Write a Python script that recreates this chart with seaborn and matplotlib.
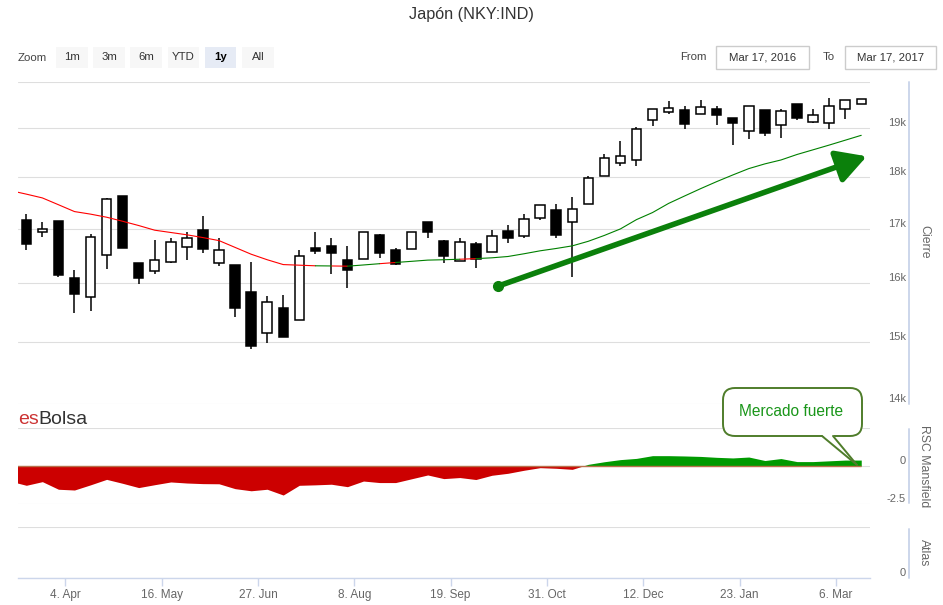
import matplotlib
matplotlib.use("Agg")
import matplotlib.pyplot as plt
import matplotlib.dates as mdates
from matplotlib.patches import Rectangle, FancyBboxPatch, Polygon
from matplotlib.lines import Line2D
from matplotlib.ticker import FixedLocator, NullLocator
import numpy as np
import pandas as pd
import seaborn as sns

# weekly candles (Friday close), Mar 2016 - Mar 2017
week_dates = pd.date_range("2016-03-18", periods=53, freq="7D")
open_ = [17160, 16929, 17141, 16088, 15754, 16509, 17623, 16358, 16218, 16381,
         16650, 16985, 16358, 16327, 15841, 15138, 15568, 15362, 16643, 16675,
         16412, 16448, 16878, 16613, 16619, 17135, 16767, 16399, 16711, 16563,
         16953, 16860, 17212, 17365, 17127, 17467, 18025, 18284, 18339, 19169,
         19346, 19397, 19296, 19418, 19226, 18944, 19382, 19063, 19526, 19133,
         19120, 19403, 19526]
high = [17275, 17135, 17154, 16236, 16910, 17584, 17623, 16358, 16798, 16835,
        16940, 17237, 16817, 16327, 16381, 15776, 15794, 16600, 16929, 16817,
        16675, 16929, 16910, 16643, 16929, 17135, 16798, 16817, 16748, 16972,
        17066, 17281, 17461, 17467, 17616, 18025, 18476, 18728, 19028, 19403,
        19576, 19468, 19598, 19475, 19226, 19475, 19382, 19403, 19526, 19403,
        19656, 19604, 19620]
low = [16613, 16846, 16118, 15478, 15521, 16267, 16640, 15982, 16160, 16375,
       16430, 16540, 16314, 15410, 14872, 14981, 15080, 15362, 16527, 16177,
       15922, 16448, 16466, 16327, 16619, 16835, 16358, 16399, 16285, 16563,
       16735, 16828, 17173, 16817, 16118, 17467, 18025, 18224, 18224, 19048,
       19310, 18994, 19296, 19078, 18661, 18784, 18840, 18805, 19184, 19112,
       18994, 19205, 19526]
close = [16706, 17004, 16148, 15806, 16846, 17578, 16643, 16088, 16412, 16743,
         16835, 16624, 16613, 15573, 14932, 15676, 15082, 16496, 16587, 16551,
         16249, 16929, 16540, 16340, 16929, 16940, 16496, 16754, 16441, 16872,
         16835, 17193, 17461, 16891, 17376, 17973, 18394, 18427, 18994, 19403,
         19440, 19099, 19453, 19275, 19120, 19475, 18911, 19367, 19218, 19290,
         19475, 19604, 19620]

# moving average (one extra week before the window)
ma_dates = pd.date_range("2016-03-11", periods=54, freq="7D")
ma_values = [17734, 17664, 17590, 17458, 17326, 17277, 17218, 17141, 17060, 16972,
             16929, 16886, 16834, 16778, 16652, 16527, 16426, 16338, 16327, 16316,
             16313, 16309, 16331, 16354, 16376, 16397, 16419, 16426, 16435, 16446,
             16461, 16485, 16535, 16589, 16632, 16680, 16765, 16874, 16996, 17172,
             17307, 17483, 17628, 17772, 17911, 18043, 18171, 18266, 18345, 18457,
             18553, 18650, 18751, 18853]
# state of each segment between consecutive MA points: 1 = weak (red), 0 = strong (green)
ma_weak = [1] * 19 + [0, 1, 0, 0, 1] + [0] * 4 + [1] + [0] * 24

# RSC Mansfield, same weeks as ma_dates
rsc_values = [-1.00, -1.27, -1.03, -1.53, -1.58, -1.24, -0.88, -1.14, -1.42, -1.23,
              -1.05, -1.12, -1.16, -1.17, -1.49, -1.63, -1.53, -1.91, -1.27, -1.24,
              -1.20, -1.36, -0.99, -1.09, -1.09, -0.84, -0.59, -0.83, -0.76, -0.89,
              -0.61, -0.48, -0.28, -0.11, -0.15, -0.22, 0.11, 0.28, 0.42, 0.50,
              0.68, 0.68, 0.66, 0.63, 0.57, 0.53, 0.59, 0.36, 0.49, 0.29,
              0.29, 0.34, 0.39, 0.39]

price_ticks = [14000, 15000, 16000, 17000, 18000, 19000, 20000]
price_labels = ["14k", "15k", "16k", "17k", "18k", "19k", ""]
tick_dates = ["2016-04-04", "2016-05-16", "2016-06-27", "2016-08-08", "2016-09-19",
              "2016-10-31", "2016-12-12", "2017-01-23", "2017-03-06"]
tick_labels = ["4. Apr", "16. May", "27. Jun", "8. Aug", "19. Sep",
               "31. Oct", "12. Dec", "23. Jan", "6. Mar"]
zoom_buttons = ["1m", "3m", "6m", "YTD", "1y", "All"]
zoom_selected = "1y"
range_from, range_to = "Mar 17, 2016", "Mar 17, 2017"
trend_start = ("2016-10-09 14:00", 15952)
trend_end = ("2017-03-19 10:00", 18420)

sns.set_theme(style="white")
plt.rcParams["font.family"] = ["Liberation Sans", "DejaVu Sans"]

W, H = 943, 605
fig = plt.figure(figsize=(W / 100, H / 100), dpi=100)
fig.patch.set_facecolor("white")


def box(x0, y0, x1, y1):
    # pixel box (top-left origin) -> figure fraction rect
    return [x0 / W, 1 - y1 / H, (x1 - x0) / W, (y1 - y0) / H]


def ip(x, y):
    # pixel -> inches for fig.dpi_scale_trans
    return (x / 100, (H - y) / 100)


ax = fig.add_axes(box(18, 82, 870, 404))
ax_rsc = fig.add_axes(box(18, 428, 870, 504), sharex=ax)
ax_atl = fig.add_axes(box(18, 527, 870, 578), sharex=ax)

x_c = mdates.date2num(week_dates)
x_ma = mdates.date2num(ma_dates)
o, h, l, c = map(np.asarray, (open_, high, low, close))

GRID = "#dedede"
AXC = "#ccd6eb"
LBL = "#666666"

# candles
ax.vlines(x_c, l, h, color="black", lw=1.1, zorder=2)
up = c >= o
ax.bar(x_c, np.abs(c - o), bottom=np.minimum(o, c), width=4.1,
       color=np.where(up, "white", "black"), edgecolor="black", linewidth=1.1, zorder=3)

# moving average, split into runs of equal state
rows = []
run = 0
for i, weak in enumerate(ma_weak):
    if i > 0 and weak != ma_weak[i - 1]:
        run += 1
    state = "weak" if weak else "strong"
    rows.append((run, state, x_ma[i], ma_values[i]))
    rows.append((run, state, x_ma[i + 1], ma_values[i + 1]))
ma_df = pd.DataFrame(rows, columns=["run", "state", "x", "ma"]).drop_duplicates()
sns.lineplot(data=ma_df, x="x", y="ma", hue="state", units="run", estimator=None,
             palette={"weak": "#ff0000", "strong": "#008000"}, lw=0.8, sort=False,
             legend=False, ax=ax, zorder=4)

# trend arrow
xs, ys = mdates.date2num(pd.Timestamp(trend_start[0])), trend_start[1]
xe, ye = mdates.date2num(pd.Timestamp(trend_end[0])), trend_end[1]
ax.annotate("", xy=(xe, ye), xytext=(xs, ys),
            arrowprops=dict(arrowstyle="-|>,head_length=0.9,head_width=0.5",
                            color="#0b800b", lw=4, mutation_scale=20,
                            shrinkA=0, shrinkB=0), zorder=6)
ax.plot([xs], [ys], "o", ms=7, color="#0b800b", zorder=6)

ax.set_yscale("log")
ax.set_ylim(14000, 20000)
ax.yaxis.set_major_locator(FixedLocator(price_ticks))
ax.yaxis.set_minor_locator(NullLocator())
ax.set_yticklabels(price_labels)

# RSC Mansfield area
rsc = np.asarray(rsc_values)
ax_rsc.fill_between(x_ma, rsc, 0, where=rsc < 0, interpolate=True, color="#cc0000", lw=0)
ax_rsc.fill_between(x_ma, rsc, 0, where=rsc >= 0, interpolate=True, color="#009a00", lw=0)
ax_rsc.hlines(0, x_ma[0], x_ma[-1], color="#b8704a", lw=1, zorder=3)
ax_rsc.set_ylim(-2.5, 2.5)
ax_rsc.set_yticks([-2.5, 0, 2.5])
ax_rsc.set_yticklabels(["-2.5", "0", ""])

ax_atl.set_ylim(0, 1)
ax_atl.set_yticks([0, 1])
ax_atl.set_yticklabels(["0", ""])

left = mdates.date2num(pd.Timestamp("2016-03-14 09:00"))
right = mdates.date2num(pd.Timestamp("2017-03-20 19:40"))
ax.set_xlim(left, right)
ax_atl.set_xticks(mdates.date2num(pd.to_datetime(tick_dates)))
ax_atl.set_xticklabels(tick_labels)

for a in (ax, ax_rsc, ax_atl):
    a.set_facecolor("none")
    for s in a.spines.values():
        s.set_visible(False)
    a.grid(False)
    a.grid(axis="y", color=GRID, lw=0.8)
    a.set_axisbelow(True)
    a.yaxis.tick_right()
    a.tick_params(axis="y", length=0, pad=26, labelsize=8, labelcolor=LBL)
    plt.setp(a.get_yticklabels(), ha="right", va="bottom")
    a.set_xlabel("")
    a.set_ylabel("")

for a in (ax, ax_rsc):
    a.tick_params(axis="x", bottom=False, labelbottom=False)

ax_atl.spines["bottom"].set_visible(True)
ax_atl.spines["bottom"].set_color(AXC)
ax_atl.spines["bottom"].set_linewidth(1)
ax_atl.tick_params(axis="x", bottom=True, direction="out", length=6, width=1,
                   color=AXC, pad=2, labelsize=8.5, labelcolor=LBL)

# right axis lines and titles
for y0, y1 in [(82, 404), (429, 503), (529, 578)]:
    fig.add_artist(Line2D([909 / W, 909 / W], [1 - y0 / H, 1 - y1 / H],
                          color=AXC, lw=1.4))
for txt, yc in [("Cierre", 242), ("RSC Mansfield", 466), ("Atlas", 553)]:
    fig.text(924 / W, 1 - yc / H, txt, rotation=270, ha="center", va="center",
             color=LBL, fontsize=8.8)

# title
fig.text(0.5, 1 - 14 / H, "Japón (NKY:IND)", ha="center", va="center",
         fontsize=11.7, color="#333333")

# range selector
fig.text(18 / W, 1 - 58 / H, "Zoom", ha="left", va="center", fontsize=8.2, color="#444444")
for i, lab in enumerate(zoom_buttons):
    x0 = 56 + i * 37.2
    sel = lab == zoom_selected
    fig.add_artist(Rectangle(ip(x0, 68), 0.316, 0.215, transform=fig.dpi_scale_trans,
                             fc="#e6ebf5" if sel else "#f7f7f7", ec="none"))
    fig.text((x0 + 15.8) / W, 1 - 57.5 / H, lab, ha="center", va="center",
             fontsize=8.2, color="black" if sel else "#333333",
             fontweight="bold" if sel else "normal")
fig.text(693 / W, 1 - 57 / H, "From", ha="center", va="center", fontsize=8.2, color="#444444")
fig.text(829 / W, 1 - 57 / H, "To", ha="center", va="center", fontsize=8.2, color="#444444")
for x0, x1, txt in [(716, 809, range_from), (845, 936, range_to)]:
    fig.add_artist(Rectangle(ip(x0, 69), (x1 - x0) / 100, 0.23, transform=fig.dpi_scale_trans,
                             fc="white", ec="#cccccc", lw=1))
    fig.text((x0 + x1) / 2 / W, 1 - 57 / H, txt, ha="center", va="center",
             fontsize=8.2, color="#333333")

# watermark
fig.text(18 / W, 1 - 419 / H, "es", ha="left", va="center", fontsize=14, color="#cc3333")
fig.text(38.5 / W, 1 - 419 / H, "Bolsa", ha="left", va="center", fontsize=14, color="#333333")

# callout
OUT = "#4f7d2b"
fig.add_artist(FancyBboxPatch(ip(723, 436), 1.39, 0.48, transform=fig.dpi_scale_trans,
                              boxstyle="round,pad=0,rounding_size=0.12",
                              fc="white", ec=OUT, lw=1.4))
fig.add_artist(Polygon([ip(822, 435), ip(857, 465), ip(833, 435)], closed=True,
                       transform=fig.dpi_scale_trans, fc="white", ec="none"))
for bx in (822, 833):
    p0, p1 = ip(bx, 436), ip(857, 465)
    fig.add_artist(Line2D([p0[0], p1[0]], [p0[1], p1[1]], transform=fig.dpi_scale_trans,
                          color=OUT, lw=1.4))
fig.text(791 / W, 1 - 412 / H, "Mercado fuerte", ha="center", va="center",
         fontsize=11.2, color="#1a961a")

fig.savefig("out.png", dpi=100, facecolor="white")
